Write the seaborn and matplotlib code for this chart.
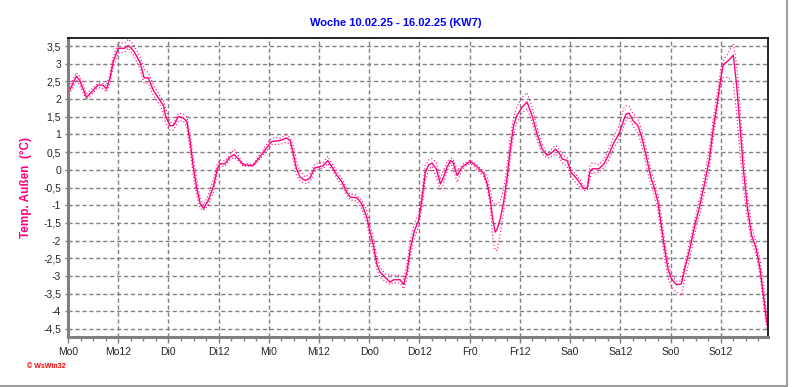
import numpy as np
import pandas as pd
import seaborn as sns
import matplotlib.pyplot as plt
from matplotlib.lines import Line2D
from matplotlib.ticker import MultipleLocator, FuncFormatter

# Stunden seit Montag 0 Uhr
stunden = [0, 2, 2.8, 4.4, 7.2, 8.4, 9.2, 10, 10.8, 12, 13.6, 14.4, 15.6, 17.2, 18.2, 19.2, 20.4, 22, 22.8, 23.4,
           24.4, 25.2, 26.4, 27.6, 28.4, 29.2, 30, 30.8, 31.6, 32.4,
           33.5, 34.7, 35.7, 36.3, 37.5, 38.7, 39.7, 40.7, 41.9, 44.2, 45.5, 46.7, 47.9, 48.7, 50.7, 52.2, 53.1,
           53.8, 54.6, 55.5, 56.7, 57.8, 58.9, 59.9, 61, 62.1, 63.1, 64.3, 65.5,
           66.6, 67.4, 69, 70.2, 71.4, 72.2, 73, 73.8, 74.6, 75.8, 77, 77.8, 79.4, 80.2, 81, 81.8, 82.8, 83.8,
           84.6, 85.4, 86.2, 87, 88, 89, 89.6, 90.6, 91.4, 92, 93, 94.2, 95.2, 96.2, 97.8, 99.4,
           100.2, 100.9, 101.5, 102.1, 102.6, 103.3, 104.1, 104.9, 105.7, 106.5, 107.3, 108.5, 109.7, 110.9,
           112.1, 113.3, 114.5, 115.3, 116.5, 117.3, 118.1, 119.3, 120.2, 121.3, 122.5, 123.1, 124.1, 124.7,
           125.3, 126.9, 128.1, 129.3, 130.5, 131.7, 132.9,
           133.4, 134.1, 135, 136.2, 137, 137.8, 138.6, 139.4, 140.2, 141, 141.8, 142.6, 143.4, 144.2, 145.4,
           146.6, 147.4, 148.6, 149.8, 151, 152.2, 153.3, 154.2, 155.2, 156, 156.6, 157.8, 159, 159.8, 160.6,
           161.4, 162.4, 163.4, 164.5, 165.4, 166.2, 166.9, 167.2]

temp = [2.15, 2.65, 2.53, 2.05, 2.4, 2.39, 2.29, 2.58, 3.05, 3.44, 3.44, 3.52, 3.38, 3.05, 2.6, 2.6, 2.25, 1.96, 1.82, 1.49,
        1.25, 1.25, 1.51, 1.46, 1.37, 0.78, 0.03, -0.54, -0.96, -1.1,
        -0.87, -0.49, 0.03, 0.17, 0.17, 0.36, 0.43, 0.31, 0.14, 0.12, 0.31, 0.5, 0.69, 0.8, 0.83, 0.9, 0.83,
        0.5, 0.03, -0.21, -0.3, -0.24, 0.05, 0.08, 0.12, 0.26, 0.08, -0.16, -0.35,
        -0.63, -0.77, -0.79, -0.96, -1.34, -1.76, -2.14, -2.66, -2.9, -3.04, -3.18, -3.11, -3.11, -3.25, -2.9,
        -2.24, -1.72, -1.43, -0.82, -0.07, 0.14, 0.19, 0.03, -0.4, -0.25, 0.08, 0.26, 0.22, -0.16, 0.08, 0.17,
        0.24, 0.08, -0.11,
        -0.4, -0.82, -1.39, -1.76, -1.67, -1.39, -0.92, -0.25, 0.59, 1.25, 1.54, 1.77, 1.92, 1.54,
        1.02, 0.59, 0.41, 0.45, 0.58, 0.5, 0.31, 0.26, -0.07, -0.21, -0.4, -0.52, -0.52, -0.07,
        0.03, 0.03, 0.17, 0.45, 0.78, 1.02, 1.44,
        1.58, 1.6, 1.4, 1.25, 0.97, 0.59, 0.17, -0.25, -0.54, -0.92, -1.58, -2.24, -2.8, -3.08, -3.25,
        -3.23, -2.8, -2.24, -1.58, -1.01, -0.35, 0.31, 1.16, 1.92, 2.58, 2.97, 3.09, 3.24, 2.39, 1.25,
        0.03, -1.1, -1.86, -2.24, -2.8, -3.56, -4.22, -4.4]

temp_max = [2.25, 2.75, 2.65, 2.15, 2.45, 2.45, 2.38, 2.7, 3.2, 3.6, 3.58, 3.7, 3.55, 3.2, 2.85, 2.75, 2.4, 2.1, 1.95, 1.7,
            1.35, 1.3, 1.6, 1.58, 1.5, 1.0, 0.3, -0.3, -0.8, -1.0,
            -0.72, -0.3, 0.17, 0.28, 0.25, 0.42, 0.58, 0.4, 0.18, 0.15, 0.38, 0.58, 0.8, 0.9, 0.9, 0.98, 0.92,
            0.7, 0.25, -0.05, -0.2, -0.12, 0.15, 0.2, 0.2, 0.38, 0.18, -0.05, -0.25,
            -0.55, -0.68, -0.72, -0.85, -1.15, -1.55, -1.95, -2.45, -2.75, -2.95, -2.98, -2.98, -2.98, -3.1, -2.65,
            -2.0, -1.5, -1.25, -0.6, 0.1, 0.28, 0.32, 0.22, -0.25, -0.05, 0.22, 0.32, 0.32, -0.02, 0.15, 0.22,
            0.28, 0.14, -0.05,
            -0.2, -0.55, -0.9, -1.0, -0.95, -0.9, -0.55, 0.1, 0.9, 1.5, 1.8, 2.05, 2.18, 1.8,
            1.2, 0.72, 0.45, 0.55, 0.69, 0.6, 0.42, 0.35, 0.02, -0.12, -0.3, -0.45, -0.45, 0.1,
            0.2, 0.15, 0.3, 0.6, 0.95, 1.25, 1.77,
            1.82, 1.8, 1.6, 1.45, 1.15, 0.8, 0.4, -0.05, -0.35, -0.7, -1.3, -2.0, -2.6, -2.95, -3.15,
            -3.15, -2.65, -2.05, -1.4, -0.8, -0.1, 0.6, 1.45, 2.2, 2.85, 3.1, 3.3, 3.57, 3.0, 1.8,
            0.5, -0.7, -1.6, -2.1, -2.55, -3.2, -4.0, -4.3]

temp_min = [2.05, 2.55, 2.4, 1.98, 2.33, 2.3, 2.2, 2.45, 2.9, 3.3, 3.33, 3.45, 3.25, 2.85, 2.45, 2.45, 2.1, 1.82, 1.6, 1.3,
            1.12, 1.12, 1.38, 1.38, 1.2, 0.55, -0.2, -0.75, -1.1, -1.15,
            -1.0, -0.65, -0.1, 0.1, 0.1, 0.28, 0.35, 0.25, 0.1, 0.1, 0.25, 0.42, 0.6, 0.72, 0.72, 0.78, 0.72,
            0.3, -0.15, -0.32, -0.38, -0.35, -0.05, 0.02, 0.05, 0.18, 0.0, -0.25, -0.45,
            -0.72, -0.85, -0.88, -1.1, -1.5, -1.95, -2.35, -2.8, -3.05, -3.15, -3.25, -3.2, -3.2, -3.37, -3.1,
            -2.45, -1.9, -1.6, -1.05, -0.3, 0.0, 0.1, -0.2, -0.58, -0.45, -0.05, 0.2, 0.05, -0.35, 0.0, 0.12,
            0.18, 0.0, -0.2,
            -0.5, -1.0, -1.9, -2.28, -2.28, -1.8, -1.2, -0.5, 0.3, 1.0, 1.35, 1.6, 1.73, 1.35,
            0.85, 0.45, 0.33, 0.35, 0.45, 0.38, 0.2, 0.1, -0.2, -0.35, -0.5, -0.58, -0.58, -0.25,
            -0.08, -0.08, 0.05, 0.3, 0.62, 0.85, 1.25,
            1.4, 1.5, 1.25, 1.05, 0.75, 0.35, -0.1, -0.45, -0.75, -1.15, -1.85, -2.5, -3.05, -3.3, -3.45,
            -3.55, -3.1, -2.5, -1.8, -1.25, -0.6, 0.0, 0.9, 1.7, 2.45, 2.6, 2.62, 2.45, 1.6, 0.5,
            -0.5, -1.4, -2.05, -2.4, -3.0, -3.8, -4.4, -4.55]

tick_pos = [0, 12, 24, 36, 48, 60, 72, 84, 96, 108, 120, 132, 144, 156]
tick_labels = ["Mo0", "Mo12", "Di0", "Di12", "Mi0", "Mi12", "Do0", "Do12",
               "Fr0", "Fr12", "Sa0", "Sa12", "So0", "So12"]

df = pd.DataFrame({"h": stunden, "temp": temp, "max": temp_max, "min": temp_min})

sns.set_theme(style="white")
plt.rcParams['font.family'] = ['Liberation Sans', 'DejaVu Sans']

pink = "#FF0080"
grau = "#808080"

fig = plt.figure(figsize=(7.92, 3.87), dpi=100)
ax = fig.add_axes([68 / 792, 1 - 337 / 387, 700 / 792, 299 / 387])

sns.lineplot(data=df, x="h", y="max", ax=ax, color=pink, lw=0.8, linestyle=(0, (1, 2)))
sns.lineplot(data=df, x="h", y="min", ax=ax, color=pink, lw=0.8, linestyle=(0, (1, 2)))
sns.lineplot(data=df, x="h", y="temp", ax=ax, color=pink, lw=1.0)

ax.set_xlim(0, 167.3)
ax.set_ylim(-4.73, 3.73)
ax.set_xticks(tick_pos)
ax.set_xticklabels(tick_labels, fontsize=7.5)
ax.xaxis.set_minor_locator(MultipleLocator(3))
ax.yaxis.set_major_locator(MultipleLocator(0.5))
ax.yaxis.set_major_formatter(FuncFormatter(lambda v, p: ("%g" % v).replace(".", ",")))
ax.tick_params(axis="y", labelsize=7.5, length=2, width=1, color=grau, pad=3, left=True)
ax.tick_params(axis="x", which="major", length=4, width=1, color=grau, pad=3, bottom=True)
ax.tick_params(axis="x", which="minor", length=3, width=1, color=grau, bottom=True)

ax.grid(True, which="major", color=grau, linestyle=(0, (3, 2)), linewidth=1.0)

for s in ["left", "bottom"]:
    ax.spines[s].set_color(grau)
    ax.spines[s].set_linewidth(2.2)
for s in ["top", "right"]:
    ax.spines[s].set_color("black")
    ax.spines[s].set_linewidth(1.2)

ax.set_xlabel("")
ax.set_ylabel("Temp. Außen  (°C)", color=pink, fontsize=8.5, fontweight="bold", labelpad=8)

fig.text(0.5, 1 - 23 / 387, "Woche 10.02.25 - 16.02.25 (KW7)", ha="center", va="center",
         color="#0000FF", fontsize=8, fontweight="bold")
fig.text(27 / 792, 1 - 367 / 387, "© WsWin32", ha="left", va="center", color="red",
         fontsize=5, fontweight="bold")

# grauer Fensterrahmen rechts und unten
fig.add_artist(Line2D([787 / 792, 787 / 792], [0, 1], color="#A0A0A0", lw=1.5))
fig.add_artist(Line2D([0, 787 / 792], [1 / 387, 1 / 387], color="#A0A0A0", lw=1.5))

fig.savefig("out.png", dpi=100)
